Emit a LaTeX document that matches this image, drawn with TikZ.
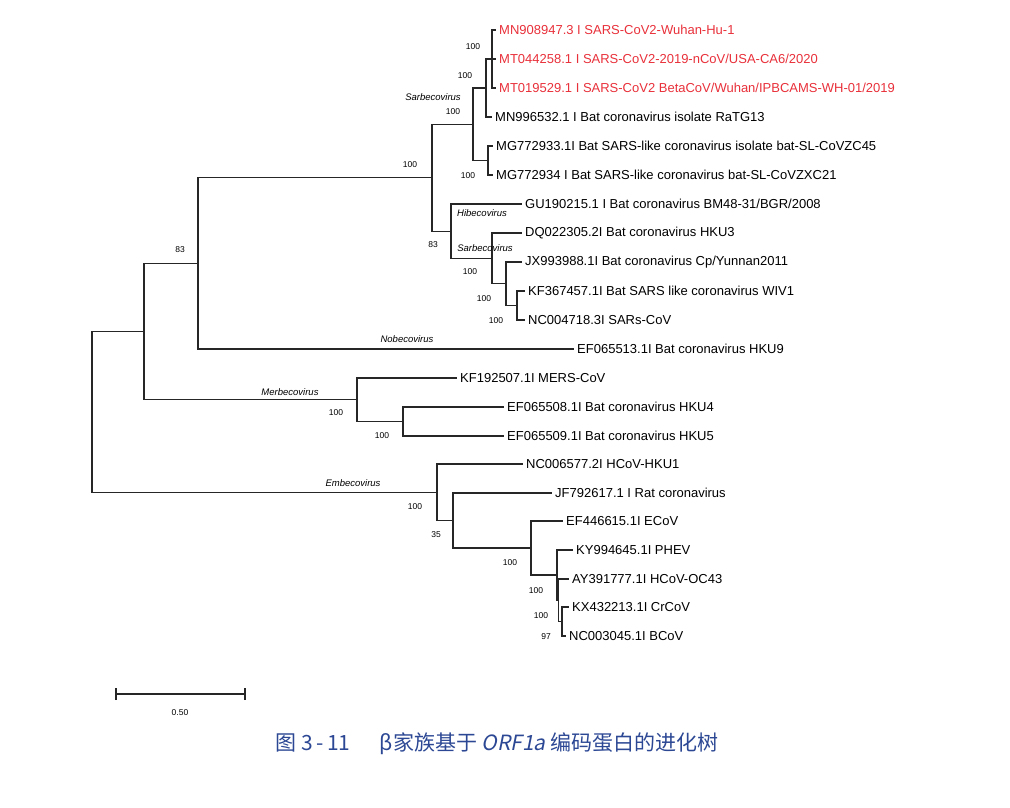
\documentclass[tikz,border=0pt]{standalone}
\usepackage{fontspec}
\setmainfont{Liberation Sans}
\newfontfamily\cjk[AutoFakeSlant=0.2]{Noto Sans CJK SC}
\definecolor{seqred}{RGB}{232,48,58}
\definecolor{capblue}{RGB}{44,72,148}

\begin{document}
\begin{tikzpicture}[x=1pt,y=-1pt,
  branch/.style={line width=1.1pt,black!85},
  taxon/.style={anchor=west,inner sep=3pt,font=\fontsize{13}{15}\selectfont},
  hit/.style={taxon,text=seqred},
  boot/.style={inner sep=0pt,font=\fontsize{8.5}{9}\selectfont},
  genus/.style={inner sep=0pt,font=\fontsize{9.5}{10}\selectfont\itshape}]
\useasboundingbox (0,0) rectangle (1010,807);

\coordinate (r) at (92,411.8);
\coordinate (a) at (144,331.6);
\coordinate (b) at (198,263.4);
\coordinate (c) at (432,177.7);
\coordinate (d) at (473,124.3);
\coordinate (e) at (486,88);
\coordinate (f) at (492,59);
\coordinate (h) at (488,160.5);
\coordinate (i) at (451,231.2);
\coordinate (j) at (492,258.4);
\coordinate (k) at (506,283.8);
\coordinate (l) at (517,305.5);
\coordinate (m) at (357,399.8);
\coordinate (n) at (403,421.5);
\coordinate (q) at (437,492.3);
\coordinate (s) at (453,520.5);
\coordinate (p) at (531,548);
\coordinate (t) at (557,575);
\coordinate (v) at (558.5,600);
\coordinate (u) at (562,621.5);

\node[hit] (MN908947) at (496,30) {MN908947.3 I SARS-CoV2-Wuhan-Hu-1};
\node[hit] (MT044258) at (496,59) {MT044258.1 I SARS-CoV2-2019-nCoV/USA-CA6/2020};
\node[hit] (MT019529) at (496,88) {MT019529.1 I SARS-CoV2 BetaCoV/Wuhan/IPBCAMS-WH-01/2019};
\node[taxon] (MN996532) at (492,117) {MN996532.1 I Bat coronavirus isolate RaTG13};
\node[taxon] (MG772933) at (493,146) {MG772933.1I Bat SARS-like coronavirus isolate bat-SL-CoVZC45};
\node[taxon] (MG772934) at (493,175) {MG772934 I Bat SARS-like coronavirus bat-SL-CoVZXC21};
\node[taxon] (GU190215) at (522,204) {GU190215.1 I Bat coronavirus BM48-31/BGR/2008};
\node[taxon] (DQ022305) at (522,233) {DQ022305.2I Bat coronavirus HKU3};
\node[taxon] (JX993988) at (522,262) {JX993988.1I Bat coronavirus Cp/Yunnan2011};
\node[taxon] (KF367457) at (525,291) {KF367457.1I Bat SARS like coronavirus WIV1};
\node[taxon] (NC004718) at (525,320) {NC004718.3I SARs-CoV};
\node[taxon] (EF065513) at (574,349) {EF065513.1I Bat coronavirus HKU9};
\node[taxon] (KF192507) at (457,378) {KF192507.1I MERS-CoV};
\node[taxon] (EF065508) at (504,407) {EF065508.1I Bat coronavirus HKU4};
\node[taxon] (EF065509) at (504,436) {EF065509.1I Bat coronavirus HKU5};
\node[taxon] (NC006577) at (523,464) {NC006577.2I HCoV-HKU1};
\node[taxon] (JF792617) at (552,493) {JF792617.1 I Rat coronavirus};
\node[taxon] (EF446615) at (563,521) {EF446615.1I ECoV};
\node[taxon] (KY994645) at (573,550) {KY994645.1I PHEV};
\node[taxon] (AY391777) at (569,579) {AY391777.1I HCoV-OC43};
\node[taxon] (KX432213) at (569,607) {KX432213.1I CrCoV};
\node[taxon] (NC003045) at (566,636) {NC003045.1I BCoV};

\draw[branch] (r) |- (a);
\draw[branch] (r) |- (q);
\draw[branch] (a) |- (b);
\draw[branch] (a) |- (m);
\draw[branch] (b) |- (c);
\draw[branch] (b) |- (EF065513.west);
\draw[branch] (c) |- (d);
\draw[branch] (c) |- (i);
\draw[branch] (d) |- (e);
\draw[branch] (d) |- (h);
\draw[branch] (e) |- (f);
\draw[branch] (e) |- (MN996532.west);
\draw[branch] (f) |- (MN908947.west);
\draw[branch] (f) |- (MT044258.west);
\draw[branch] (f) |- (MT019529.west);
\draw[branch] (h) |- (MG772933.west);
\draw[branch] (h) |- (MG772934.west);
\draw[branch] (i) |- (GU190215.west);
\draw[branch] (i) |- (j);
\draw[branch] (j) |- (DQ022305.west);
\draw[branch] (j) |- (k);
\draw[branch] (k) |- (JX993988.west);
\draw[branch] (k) |- (l);
\draw[branch] (l) |- (KF367457.west);
\draw[branch] (l) |- (NC004718.west);
\draw[branch] (m) |- (KF192507.west);
\draw[branch] (m) |- (n);
\draw[branch] (n) |- (EF065508.west);
\draw[branch] (n) |- (EF065509.west);
\draw[branch] (q) |- (NC006577.west);
\draw[branch] (q) |- (s);
\draw[branch] (s) |- (JF792617.west);
\draw[branch] (s) |- (p);
\draw[branch] (p) |- (EF446615.west);
\draw[branch] (p) |- (t);
\draw[branch] (t) |- (KY994645.west);
\draw[branch] (t) |- (v);
\draw[branch] (v) |- (AY391777.west);
\draw[branch] (v) |- (u);
\draw[branch] (u) |- (KX432213.west);
\draw[branch] (u) |- (NC003045.west);

\node[boot] (bf) at (473,47) {100};
\node[boot] (be) at (465,76) {100};
\node[boot] (bd) at (453,112) {100};
\node[boot] (bh) at (468,176) {100};
\node[boot] (bc) at (410,165) {100};
\node[boot] (bb) at (180,250) {83};
\node[boot] (bi) at (433,245) {83};
\node[boot] (bj) at (470,272) {100};
\node[boot] (bk) at (484,299) {100};
\node[boot] (bl) at (496,321) {100};
\node[boot] (bm) at (336,413) {100};
\node[boot] (bn) at (382,436) {100};
\node[boot] (bq) at (415,507) {100};
\node[boot] (bs) at (436,535) {35};
\node[boot] (bp) at (510,563) {100};
\node[boot] (bt) at (536,591) {100};
\node[boot] (bv) at (541,616) {100};
\node[boot] (bu) at (546,637) {97};

\node[genus] (sarb1) at (433,97) {Sarbecovirus};
\node[genus] (hibe) at (482,213) {Hibecovirus};
\node[genus] (sarb2) at (485,248) {Sarbecovirus};
\node[genus] (nobe) at (407,339) {Nobecovirus};
\node[genus] (merb) at (290,392) {Merbecovirus};
\node[genus] (embe) at (353,483) {Embecovirus};

\coordinate (sb0) at (116,694);
\coordinate (sb1) at (245,694);
\draw[branch] (sb0) -- (sb1);
\draw[branch] ([yshift=-6pt]sb0) -- ([yshift=6pt]sb0);
\draw[branch] ([yshift=-6pt]sb1) -- ([yshift=6pt]sb1);
\node[boot] (scale) at (180,713) {0.50};

\node[text=capblue,font=\cjk\fontsize{21}{24}\selectfont] (caption) at (497,744)
  {图 3\,-\,11\quad\, β家族基于 {\itshape ORF1a} 编码蛋白的进化树};
\end{tikzpicture}
\end{document}
